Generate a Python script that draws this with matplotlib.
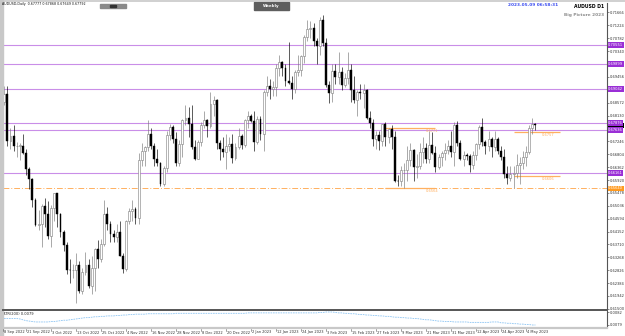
import numpy as np
import pandas as pd
import matplotlib
matplotlib.use('Agg')
import matplotlib.pyplot as plt

# ---- data ----
dates = pd.bdate_range('2022-09-08', '2023-05-09')
dates = dates[dates != pd.Timestamp('2022-12-26')]

first_open = 0.6735
closes = [
    0.6757, 0.6860, 0.6886, 0.6725, 0.6742, 0.6709, 0.6710, 0.6710, 0.6683, 0.6630,
    0.6595, 0.6522, 0.6437, 0.6440, 0.6502, 0.6474, 0.6399, 0.6497, 0.6546, 0.6475,
    0.6412, 0.6368, 0.6283, 0.6282, 0.6282, 0.6299, 0.6213, 0.6278, 0.6302, 0.6229,
    0.6290, 0.6356, 0.6322, 0.6373, 0.6475, 0.6442, 0.6408, 0.6397, 0.6415, 0.6330,
    0.6288, 0.6453, 0.6485, 0.6493, 0.6463, 0.6660, 0.6692, 0.6704, 0.6750, 0.6709,
    0.6663, 0.6652, 0.6578, 0.6634, 0.6746, 0.6774, 0.6733, 0.6652, 0.6715, 0.6797,
    0.6804, 0.6784, 0.6704, 0.6665, 0.6722, 0.6779, 0.6798, 0.6776, 0.6852, 0.6866,
    0.6720, 0.6699, 0.6687, 0.6709, 0.6715, 0.6669, 0.6706, 0.6744, 0.6712, 0.6799,
    0.6812, 0.6795, 0.6721, 0.6801, 0.6749, 0.6895, 0.6916, 0.6904, 0.6911, 0.6977,
    0.6996, 0.6977, 0.6931, 0.6925, 0.6904, 0.6961, 0.6971, 0.7016, 0.7084, 0.7110,
    0.7114, 0.7070, 0.7050, 0.7140, 0.7063, 0.6918, 0.6892, 0.6967, 0.6946, 0.6963,
    0.6917, 0.6941, 0.6970, 0.6900, 0.6865, 0.6895, 0.6890, 0.6900, 0.6806, 0.6789,
    0.6734, 0.6746, 0.6727, 0.6783, 0.6740, 0.6766, 0.6740, 0.6589, 0.6587, 0.6625,
    0.6626, 0.6660, 0.6695, 0.6635, 0.6639, 0.6688, 0.6701, 0.6663, 0.6713, 0.6683,
    0.6638, 0.6670, 0.6685, 0.6694, 0.6709, 0.6687, 0.6782, 0.6719, 0.6665, 0.6678,
    0.6675, 0.6643, 0.6677, 0.6714, 0.6775, 0.6721, 0.6707, 0.6731, 0.6706, 0.6733,
    0.6692, 0.6672, 0.6611, 0.6599, 0.6612, 0.6616, 0.6643, 0.6650, 0.6670, 0.6688,
    0.6769, 0.6785, 0.6779,
]
highs = [
    0.6776, 0.6873, 0.6916, 0.6915, 0.6772, 0.6781, 0.6723, 0.6718, 0.6750, 0.6700,
    0.6635, 0.6600, 0.6530, 0.6490, 0.6510, 0.6532, 0.6520, 0.6505, 0.6548, 0.6547,
    0.6480, 0.6420, 0.6380, 0.6320, 0.6305, 0.6340, 0.6315, 0.6290, 0.6346, 0.6320,
    0.6330, 0.6360, 0.6385, 0.6390, 0.6522, 0.6500, 0.6450, 0.6420, 0.6440, 0.6453,
    0.6340, 0.6455, 0.6495, 0.6522, 0.6500, 0.6685, 0.6720, 0.6710, 0.6797, 0.6770,
    0.6720, 0.6700, 0.6655, 0.6640, 0.6760, 0.6785, 0.6780, 0.6755, 0.6730, 0.6800,
    0.6850, 0.6842, 0.6851, 0.6730, 0.6730, 0.6790, 0.6830, 0.6800, 0.6893, 0.6880,
    0.6870, 0.6730, 0.6740, 0.6750, 0.6740, 0.6750, 0.6720, 0.6770, 0.6750, 0.6800,
    0.6830, 0.6820, 0.6830, 0.6810, 0.6810, 0.6900, 0.6950, 0.6940, 0.6930, 0.6990,
    0.7020, 0.7000, 0.6990, 0.7064, 0.6950, 0.6970, 0.7020, 0.7020, 0.7090, 0.7142,
    0.7137, 0.7130, 0.7080, 0.7150, 0.7158, 0.7080, 0.6930, 0.6990, 0.6990, 0.7030,
    0.6980, 0.6960, 0.7030, 0.6990, 0.6950, 0.6900, 0.6920, 0.6920, 0.6905, 0.6830,
    0.6800, 0.6760, 0.6760, 0.6783, 0.6790, 0.6770, 0.6780, 0.6760, 0.6610, 0.6640,
    0.6650, 0.6710, 0.6720, 0.6700, 0.6680, 0.6720, 0.6740, 0.6720, 0.6760, 0.6758,
    0.6710, 0.6680, 0.6690, 0.6720, 0.6730, 0.6760, 0.6790, 0.6793, 0.6730, 0.6690,
    0.6685, 0.6680, 0.6690, 0.6720, 0.6780, 0.6805, 0.6730, 0.6760, 0.6740, 0.6760,
    0.6740, 0.6710, 0.6700, 0.6640, 0.6640, 0.6640, 0.6680, 0.6670, 0.6690, 0.6710,
    0.6780, 0.6806, 0.6787,
]
lows = [
    0.6700, 0.6757, 0.6850, 0.6708, 0.6700, 0.6690, 0.6670, 0.6660, 0.6680, 0.6610,
    0.6560, 0.6500, 0.6435, 0.6420, 0.6363, 0.6430, 0.6390, 0.6363, 0.6450, 0.6430,
    0.6395, 0.6350, 0.6270, 0.6240, 0.6255, 0.6170, 0.6205, 0.6200, 0.6265, 0.6220,
    0.6200, 0.6210, 0.6290, 0.6310, 0.6365, 0.6420, 0.6380, 0.6380, 0.6380, 0.6330,
    0.6272, 0.6280, 0.6440, 0.6450, 0.6440, 0.6440, 0.6640, 0.6640, 0.6690, 0.6700,
    0.6640, 0.6640, 0.6570, 0.6570, 0.6620, 0.6730, 0.6720, 0.6640, 0.6640, 0.6670,
    0.6780, 0.6740, 0.6700, 0.6660, 0.6665, 0.6710, 0.6770, 0.6740, 0.6770, 0.6810,
    0.6700, 0.6660, 0.6670, 0.6630, 0.6690, 0.6650, 0.6660, 0.6700, 0.6700, 0.6705,
    0.6770, 0.6790, 0.6690, 0.6715, 0.6730, 0.6690, 0.6880, 0.6870, 0.6880, 0.6880,
    0.6950, 0.6950, 0.6915, 0.6920, 0.6870, 0.6890, 0.6950, 0.6950, 0.6995, 0.7070,
    0.7080, 0.7050, 0.6990, 0.7020, 0.7050, 0.6910, 0.6855, 0.6860, 0.6920, 0.6920,
    0.6900, 0.6910, 0.6920, 0.6860, 0.6855, 0.6810, 0.6870, 0.6840, 0.6800, 0.6770,
    0.6710, 0.6700, 0.6695, 0.6710, 0.6710, 0.6720, 0.6700, 0.6585, 0.6570, 0.6570,
    0.6564, 0.6590, 0.6640, 0.6590, 0.6600, 0.6630, 0.6650, 0.6650, 0.6650, 0.6680,
    0.6620, 0.6630, 0.6640, 0.6660, 0.6680, 0.6670, 0.6640, 0.6710, 0.6660, 0.6640,
    0.6660, 0.6620, 0.6630, 0.6660, 0.6700, 0.6710, 0.6680, 0.6690, 0.6670, 0.6690,
    0.6680, 0.6660, 0.6600, 0.6580, 0.6590, 0.6565, 0.6600, 0.6580, 0.6630, 0.6640,
    0.6680, 0.6750, 0.6765,
]
atr = [
    0.00805, 0.00805, 0.00805, 0.00805, 0.00805, 0.00805, 0.00805, 0.00804, 0.00802, 0.00800,
    0.00799, 0.00798, 0.00797, 0.00797, 0.00797, 0.00797, 0.00797, 0.00798, 0.00798, 0.00799,
    0.00800, 0.00801, 0.00801, 0.00802, 0.00803, 0.00804, 0.00805, 0.00806, 0.00807, 0.00807,
    0.00808, 0.00809, 0.00809, 0.00810, 0.00810, 0.00811, 0.00811, 0.00811, 0.00812, 0.00812,
    0.00813, 0.00813, 0.00814, 0.00814, 0.00815, 0.00815, 0.00815, 0.00815, 0.00816, 0.00816,
    0.00816, 0.00816, 0.00816, 0.00816, 0.00816, 0.00816, 0.00816, 0.00817, 0.00817, 0.00817,
    0.00817, 0.00817, 0.00817, 0.00817, 0.00817, 0.00817, 0.00817, 0.00817, 0.00817, 0.00817,
    0.00817, 0.00817, 0.00817, 0.00817, 0.00817, 0.00817, 0.00817, 0.00817, 0.00817, 0.00817,
    0.00818, 0.00818, 0.00818, 0.00818, 0.00818, 0.00818, 0.00818, 0.00818, 0.00818, 0.00818,
    0.00818, 0.00818, 0.00818, 0.00818, 0.00818, 0.00818, 0.00818, 0.00818, 0.00818, 0.00818,
    0.00818, 0.00818, 0.00818, 0.00819, 0.00819, 0.00820, 0.00820, 0.00820, 0.00819, 0.00818,
    0.00818, 0.00817, 0.00817, 0.00816, 0.00816, 0.00815, 0.00814, 0.00814, 0.00813, 0.00813,
    0.00812, 0.00812, 0.00811, 0.00811, 0.00810, 0.00810, 0.00809, 0.00808, 0.00808, 0.00807,
    0.00807, 0.00806, 0.00806, 0.00805, 0.00805, 0.00804, 0.00803, 0.00802, 0.00802, 0.00801,
    0.00800, 0.00799, 0.00799, 0.00798, 0.00798, 0.00798, 0.00797, 0.00797, 0.00797, 0.00797,
    0.00797, 0.00796, 0.00796, 0.00796, 0.00796, 0.00796, 0.00796, 0.00796, 0.00797, 0.00797,
    0.00797, 0.00795, 0.00795, 0.00794, 0.00794, 0.00793, 0.00793, 0.00792, 0.00792, 0.00791,
    0.00791, 0.00790, 0.00790,
]

price_ticks = [0.61500, 0.61942, 0.62384, 0.62826, 0.63268, 0.63710, 0.64152, 0.64594,
               0.65036, 0.65478, 0.65920, 0.66362, 0.66804, 0.67246, 0.67688, 0.68130,
               0.68572, 0.69014, 0.69456, 0.69898, 0.70340, 0.70782, 0.71224, 0.71666]
purple_levels = [0.70551, 0.69899, 0.69042, 0.67876, 0.67636, 0.66161]
bid = 0.67792
march_low = 0.65640
orange_left = [0.67710, 0.65640]
orange_right = [0.67570, 0.66060]
atr_ticks = [0.0082, 0.0079]
date_labels = ['8 Sep 2022', '21 Sep 2022', '3 Oct 2022', '13 Oct 2022', '25 Oct 2022',
               '4 Nov 2022', '16 Nov 2022', '28 Nov 2022', '8 Dec 2022', '20 Dec 2022',
               '2 Jan 2023', '12 Jan 2023', '24 Jan 2023', '3 Feb 2023', '15 Feb 2023',
               '27 Feb 2023', '9 Mar 2023', '21 Mar 2023', '31 Mar 2023', '12 Apr 2023',
               '24 Apr 2023', '4 May 2023']

# ---- layout helpers ----
W, H = 625, 336


def box(x0, y0, x1, y1):
    """Pixel box (top-left origin) to figure fraction rect."""
    return [x0 / W, 1 - y1 / H, (x1 - x0) / W, (y1 - y0) / H]


PURPLE = '#c98ee8'
PURPLE_BOX = '#9a2fd6'
ORANGE = '#ffb060'
ORANGE_BOX = '#ff9a1f'
FS = 2.6

closes = np.array(closes)
highs = np.array(highs)
lows = np.array(lows)
opens = np.concatenate([[first_open], closes[:-1]])
idx = np.arange(len(closes))
xl = (1.6, 194.9)

fig = plt.figure(figsize=(W / 100, H / 100), dpi=100)
fig.patch.set_facecolor('white')

ax = fig.add_axes(box(3, 3, 607, 309))
ax.set_xlim(*xl)
ax.set_ylim(0.614958, 0.719916)

# candles
up = closes >= opens
wick_col = np.where(up, '#7a7a7a', '#000000')
ax.vlines(idx, lows, highs, colors=wick_col, lw=0.45, zorder=3)
body_lo = np.minimum(opens, closes)
body_h = np.maximum(np.abs(closes - opens), 0.00012)
ax.bar(idx[up], body_h[up], bottom=body_lo[up], width=0.62, color='white',
       edgecolor='#7a7a7a', linewidth=0.4, zorder=4)
ax.bar(idx[~up], body_h[~up], bottom=body_lo[~up], width=0.62, color='black',
       edgecolor='black', linewidth=0.3, zorder=4)

# horizontal levels
for lv in purple_levels:
    ax.axhline(lv, color=PURPLE, lw=0.8, zorder=2)
ax.axhline(march_low, color=ORANGE, lw=0.7, ls=(0, (6, 2, 1, 2)), zorder=2)

i0 = dates.get_loc(pd.Timestamp('2023-03-02'))
i1 = dates.get_loc(pd.Timestamp('2023-03-24'))
for lv in orange_left:
    ax.hlines(lv, i0, i1, color=ORANGE, lw=0.9, zorder=2)
    ax.text(i1 - 1, lv - 0.0004, f'{lv:.4f}', color=ORANGE, fontsize=FS, va='top', ha='center')
j0 = dates.get_loc(pd.Timestamp('2023-04-28'))
for lv in orange_right:
    ax.hlines(lv, j0, j0 + 15, color=ORANGE, lw=0.9, zorder=2)
    ax.text(j0 + 11, lv - 0.0004, f'{lv:.4f}', color=ORANGE, fontsize=FS, va='top', ha='center')

# right price scale (grid labels hidden where a coloured level label sits)
boxed = purple_levels + [bid, march_low]
shown_ticks = [t for t in price_ticks if min(abs(t - b) for b in boxed) > 0.0015]
for s in ['top', 'left', 'bottom']:
    ax.spines[s].set_visible(False)
ax.spines['right'].set_color('#555555')
ax.spines['right'].set_linewidth(0.8)
ax.set_xticks([])
ax.yaxis.tick_right()
ax.set_yticks(shown_ticks)
ax.set_yticklabels([f'{t:.5f}' for t in shown_ticks])
ax.tick_params(axis='y', length=1.5, width=0.4, pad=0.8, labelsize=FS,
               colors='#333333')

tr = ax.get_yaxis_transform()
for lv in purple_levels:
    ax.text(1.002, lv, f'{lv:.5f}', transform=tr, fontsize=FS, color='white',
            va='center', ha='left', clip_on=False, zorder=20,
            bbox=dict(boxstyle='square,pad=0.15', fc=PURPLE_BOX, ec='none'))
ax.text(1.002, bid, f'{bid:.5f}', transform=tr, fontsize=FS, color='white',
        va='center', ha='left', clip_on=False, zorder=19,
        bbox=dict(boxstyle='square,pad=0.15', fc='black', ec='none'))
ax.text(1.002, march_low, f'{march_low:.5f}', transform=tr, fontsize=FS, color='white',
        va='center', ha='left', clip_on=False, zorder=20,
        bbox=dict(boxstyle='square,pad=0.15', fc=ORANGE_BOX, ec='none'))

# ---- ATR sub-window ----
ax2 = fig.add_axes(box(3, 310.5, 607, 327))
ax2.set_xlim(*xl)
ax2.set_ylim(0.0078535, 0.008235)
ax2.plot(idx, atr, color='#8cc4f2', lw=0.6, ls=(0, (2, 1)))
for s in ['top', 'left', 'bottom']:
    ax2.spines[s].set_visible(False)
ax2.spines['right'].set_color('#555555')
ax2.spines['right'].set_linewidth(0.8)
ax2.set_xticks([])
ax2.yaxis.tick_right()
ax2.set_yticks(atr_ticks)
ax2.set_yticklabels([f'{t:.4f}' for t in atr_ticks])
ax2.tick_params(axis='y', length=1.5, width=0.4, pad=0.8, labelsize=FS,
                colors='#333333')
ax2.text(0.0, 0.88, 'ATR(200) 0.0079', transform=ax2.transAxes, fontsize=FS,
         color='#222222', va='top', ha='left')

# separators / frame
fig.add_artist(plt.Line2D([3 / W, 607 / W], [1 - 309.5 / H] * 2, color='#555555', lw=1.4))
fig.add_artist(plt.Line2D([3 / W, 607 / W], [1 - 328 / H] * 2, color='#c8c8c8', lw=1.6))
fig.add_artist(plt.Rectangle((0, 0), 2.5 / W, 1, color='#c8c8c8', transform=fig.transFigure))
fig.add_artist(plt.Line2D([0, 1], [1 - 0.8 / H] * 2, color='#c8c8c8', lw=1.2))

# date axis
for lab in date_labels:
    d = pd.to_datetime(lab, format='%d %b %Y')
    pos = dates.get_loc(d) if d in dates else xl[0]
    pos = max(pos, xl[0])
    xp = (3 + (pos - xl[0]) / (xl[1] - xl[0]) * 604) / W
    fig.add_artist(plt.Line2D([xp, xp], [1 - 328.5 / H, 1 - 330.5 / H], color='#555555', lw=0.4))
    fig.text(xp + 0.6 / W, 1 - 332.5 / H, lab, fontsize=FS, color='#333333',
             va='center', ha='left')

# header texts
fig.text(2.5 / W, 1 - 4.5 / H, 'AUDUSD,Daily  0.67777 0.67868 0.67649 0.67792',
         fontsize=2.3, color='#111111', va='center', ha='left')
fig.add_artist(plt.Rectangle((100 / W, 1 - 7.5 / H), 26 / W, 3.5 / H, color='#8a8a8a',
                             transform=fig.transFigure))
fig.add_artist(plt.Rectangle((110 / W, 1 - 7 / H), 6 / W, 2.5 / H, color='#333333',
                             transform=fig.transFigure))
fig.add_artist(plt.Rectangle((254 / W, 1 - 9.5 / H), 35 / W, 7.5 / H, color='#5e5e5e',
                             transform=fig.transFigure))
fig.text(271.5 / W, 1 - 5.8 / H, 'Weekly', fontsize=2.9, color='white',
         fontweight='bold', va='center', ha='center')
fig.text(558 / W, 1 - 5.5 / H, '2023.05.09 06:58:31', fontsize=3.1, color='#3a4cf0',
         fontweight='bold', va='center', ha='right')
fig.text(604 / W, 1 - 6 / H, 'AUDUSD D1', fontsize=3.3, color='black',
         fontweight='bold', va='center', ha='right')
fig.text(604 / W, 1 - 15 / H, 'Big Picture 2023', fontsize=3.1, color='#8c8c8c',
         fontweight='bold', va='center', ha='right')

fig.savefig('out.png', dpi=100)
